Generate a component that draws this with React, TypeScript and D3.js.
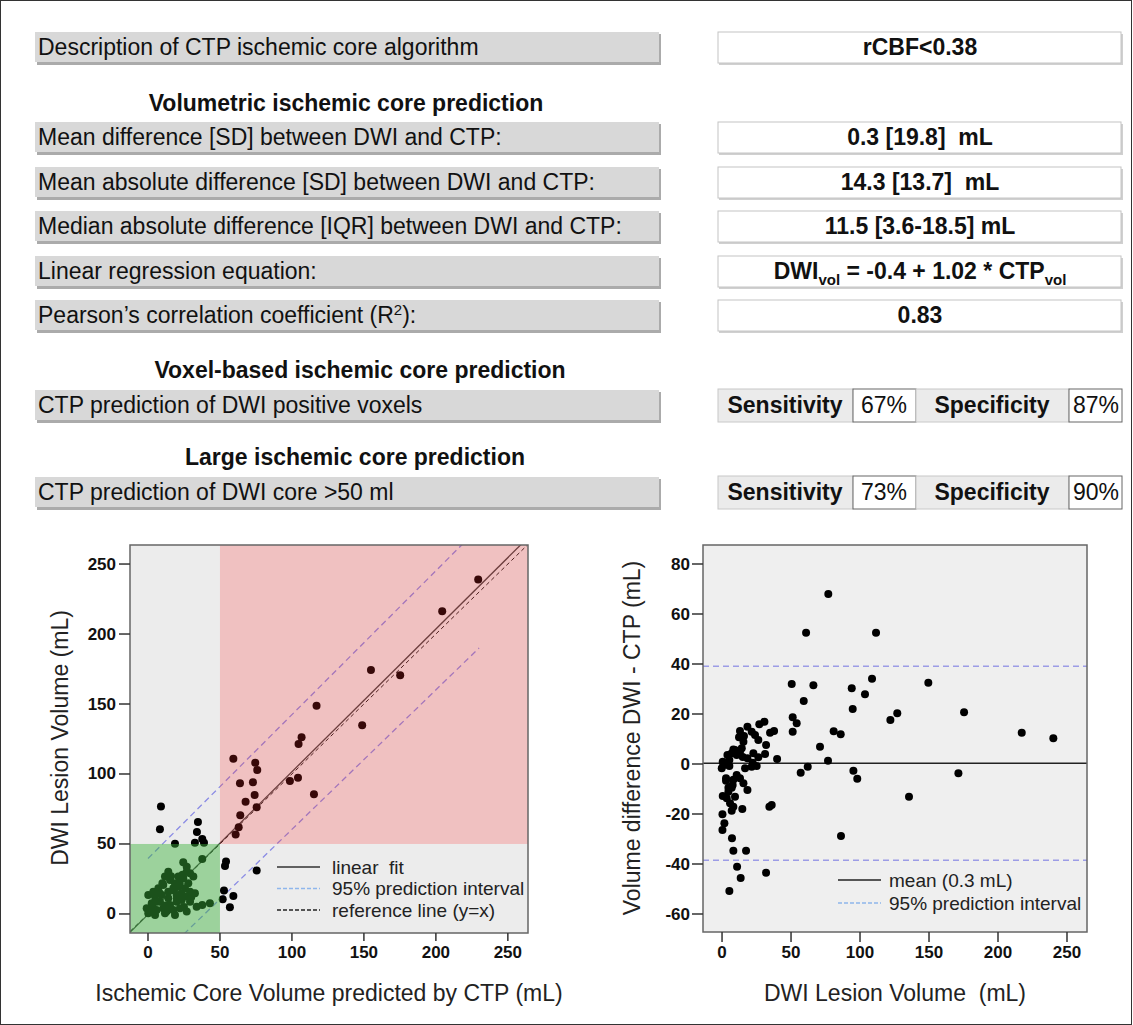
import React from 'react';
import * as d3 from 'd3';

const W = 1133;
const H = 1025;
const FONT = 'Liberation Sans, Arial, Helvetica, sans-serif';

// ---- table content ----
const tableLabels = [
  'Description of CTP ischemic core algorithm',
  'Mean difference [SD] between DWI and CTP:',
  'Mean absolute difference [SD] between DWI and CTP:',
  'Median absolute difference [IQR] between DWI and CTP:',
  'Linear regression equation:',
  'PEARSON',
];
const tableValues = ['rCBF<0.38', '0.3 [19.8]  mL', '14.3 [13.7]  mL', '11.5 [3.6-18.5] mL', 'EQUATION', '0.83'];
const sectionHeadings = [
  'Volumetric ischemic core prediction',
  'Voxel-based ischemic core prediction',
  'Large ischemic core prediction',
];
const accuracyLabels = ['CTP prediction of DWI positive voxels', 'CTP prediction of DWI core >50 ml'];
const sensitivityValues = ['67%', '73%'];
const specificityValues = ['87%', '90%'];

// ---- left scatter: [CTP predicted core, DWI lesion volume] ----
const ctpDwiPairs = [
  // large cores
  [229.4, 239], [204.4, 216.2], [154.9, 174.3], [175.2, 170.5], [117.1, 148.8], [148.8, 134.8],
  [106.7, 126.2], [104.6, 121.4], [59.3, 110.9], [74.5, 108.1], [75.9, 102.9], [63.9, 93.4],
  [72.9, 94.1], [98.6, 95], [104.2, 97.4], [115.3, 85.5], [67.8, 80.2], [74.1, 85], [75.5, 76.2],
  [64.1, 70.5], [63, 61.9], [60.9, 56.7],
  // underestimated
  [9, 76.7], [8.3, 60.5], [34.7, 65.7], [34, 58.6], [37.7, 53.6], [32.6, 50.9], [38.9, 50.9], [18.75, 50.2],
  // overestimated
  [54.2, 37.4], [53.5, 34.3], [75.5, 31], [52.8, 16.7], [59.3, 12.9], [51.9, 10.5], [56.9, 4.8],
  // small cores
  [24.5, 36.9], [26.9, 33.8], [37.7, 39.3], [14.1, 30.2], [11.8, 26.7], [15.3, 24.3], [21.1, 26.7],
  [24.5, 25.5], [26.9, 30.2], [29.2, 29.1], [31.5, 26.7], [18.75, 21.9], [10.6, 20.7], [7.2, 18.3],
  [3.7, 15.9], [0.2, 13.6], [4.9, 12.4], [9.5, 13.6], [14.1, 15.9], [17.6, 18.3], [21.1, 19.5],
  [25.7, 18.3], [23.4, 14.8], [29.2, 15.9], [32.6, 14.8], [26.9, 12.4], [19.9, 13.6], [14.1, 11.2],
  [8.3, 8.8], [2.6, 7.6], [-0.9, 4], [1.4, 1.7], [6, 2.9], [10.6, 4], [15.3, 6.4], [19.9, 8.8],
  [23.4, 10], [29.2, 8.8], [22.2, 4], [17.6, 2.9], [11.8, 0.5], [4.9, -0.7], [0.2, 0.5], [26.9, 1.7],
  [18.75, -0.7], [33.8, 5.2], [37.7, 6.4], [43, 7.6], [10, 22], [16, 27], [22, 22], [28, 22],
  [5, 9], [12, 6], [20, 11], [30, 12], [8, 15], [25, 5], [18, 17], [13, 2], [3, 5], [24, 28],
];
const fitIntercept = -0.4;
const fitSlope = 1.02;
const piUpperLeft = [[0, 39.6], [230, 276]];
const piLowerLeft = [[0, -39.2], [230, 190]];
const coreThreshold = 50;

// ---- right scatter: [DWI lesion volume, DWI - CTP] ----
const dwiDiffPairs = [
  [77, 68], [60.9, 52.5], [111.6, 52.5], [108.7, 34.1], [149.5, 32.5], [50.5, 32], [66.2, 31.5],
  [94, 30.3], [103.6, 27.9], [59.2, 25.2], [94.7, 22], [127, 20.3], [122, 17.6], [175.4, 20.7],
  [217.2, 12.5], [240.1, 10.3], [51.2, 18.7], [54.1, 16.3], [51.2, 12.9], [80.9, 13.1], [86, 11.9],
  [71, 6.9], [76.8, 1.3], [39.9, 2], [62.1, -1.1], [57, -3.5], [95.2, -2.7], [98, -5.9],
  [171.3, -3.7], [135.5, -13.1], [86.2, -28.8], [36, -16.4], [34.3, -17.1], [31.9, -43.5],
  [13, 13.2], [18.4, 14.9], [27, 15.9], [30.7, 16.9], [34.8, 12.5], [37.7, 13.2], [21.5, 12.9],
  [23.9, 11.6], [26.3, 9.6], [15.5, 8.9], [31.9, 7.6], [9.4, 5.6], [14.3, 6.3], [22.7, 4.3],
  [31.2, 4], [26.3, 2.7], [3.9, 3.6], [7, 4.3], [10.6, 3.6], [13, 4.9], [15, 2.8], [5.3, 1.6],
  [1, -0.4], [-0.2, -1.7], [0.5, 0.9], [5.3, -0.8], [16.7, -1.7], [21.5, -1.1], [22.2, 0.5],
  [25.1, -0.8], [2.9, -5.7], [2.9, -6.7], [8.2, -6.3], [13, -5.7], [15.5, -7.7], [18.4, -10.4],
  [7, -9.5], [4.6, -11.1], [0.5, -12.8], [3.4, -13.7], [9.4, -13.1], [5.8, -15.7], [8.2, -17.1],
  [7, -18.7], [14.7, -18], [0.3, -20.1], [1.7, -23.7], [0.3, -26.4], [7.2, -29.7], [8.2, -34.7],
  [17.4, -34.7], [10.9, -41.1], [13.5, -45.6], [5.3, -50.8], [12.3, 10.7], [15.9, 11.2],
  [8.2, 5.8], [18.4, 2.3], [10.6, -4.4], [7.7, -8.4], [4.6, -9.5],
];
const meanDiff = 0.3;
const piDiff = [39.1, -38.5];

const volumeTicks = [0, 50, 100, 150, 200, 250];
const diffTicks = [-60, -40, -20, 0, 20, 40, 60, 80];

function Table() {
  const rowTops = [32, 122, 167, 211, 256, 300];
  const accTops = [390, 477];
  const headY = [103, 370, 457];
  const headX = [346, 360, 355];
  const grayBox = (top: number, key: string) => (
    <g key={key}>
      <rect x={37} y={top + 2} width={624} height={31} fill="#ababab" />
      <rect x={35} y={top} width={624} height={30} fill="#d8d8d8" />
    </g>
  );
  return (
    <g fontFamily={FONT} fontSize={23} fill="#111">
      {tableLabels.map((lab, i) => (
        <g key={lab}>
          {grayBox(rowTops[i], 'g' + i)}
          <text x={38} y={rowTops[i] + 23}>
            {lab === 'PEARSON' ? (
              <>
                Pearson’s correlation coefficient (R<tspan fontSize={15} dy={-8}>2</tspan>
                <tspan dy={8}>):</tspan>
              </>
            ) : lab}
          </text>
          <rect x={719} y={rowTops[i] + 2} width={404} height={31} fill="#d0d0d0" />
          <rect x={718} y={rowTops[i]} width={403} height={31} fill="#fff" stroke="#c4c4c4" />
          <text x={920} y={rowTops[i] + 23} textAnchor="middle" fontWeight="bold" style={{ whiteSpace: 'pre' }}>
            {tableValues[i] === 'EQUATION' ? (
              <>
                DWI<tspan fontSize={15} dy={6}>vol</tspan>
                <tspan dy={-6}> = -0.4 + 1.02 * CTP</tspan>
                <tspan fontSize={15} dy={6}>vol</tspan>
              </>
            ) : tableValues[i]}
          </text>
        </g>
      ))}
      {sectionHeadings.map((h, i) => (
        <text key={h} x={headX[i]} y={headY[i] + 8} textAnchor="middle" fontWeight="bold">{h}</text>
      ))}
      {accuracyLabels.map((lab, i) => {
        const t = accTops[i];
        return (
          <g key={lab}>
            {grayBox(t, 'a' + i)}
            <text x={38} y={t + 23}>{lab}</text>
            <rect x={718} y={t - 1} width={135} height={33} fill="#ebebeb" stroke="#c8c8c8" />
            <rect x={853} y={t - 1} width={63} height={33} fill="#fff" stroke="#666" />
            <rect x={916} y={t - 1} width={153} height={33} fill="#ebebeb" stroke="#c8c8c8" />
            <rect x={1069} y={t - 1} width={53} height={33} fill="#fff" stroke="#666" />
            <text x={785} y={t + 23} textAnchor="middle" fontWeight="bold">Sensitivity</text>
            <text x={884} y={t + 23} textAnchor="middle">{sensitivityValues[i]}</text>
            <text x={992} y={t + 23} textAnchor="middle" fontWeight="bold">Specificity</text>
            <text x={1096} y={t + 23} textAnchor="middle">{specificityValues[i]}</text>
          </g>
        );
      })}
    </g>
  );
}

function LeftPlot() {
  const x = d3.scaleLinear().domain([-12.5, 264]).range([130, 528]);
  const y = d3.scaleLinear().domain([-13.6, 263.6]).range([933, 545]);
  const line = d3.line<number[]>().x((d) => x(d[0])).y((d) => y(d[1]));
  const [x0, x1] = x.domain();
  const [y0, y1] = y.domain();
  const fit = [x0, x1].map((v) => [v, fitIntercept + fitSlope * v]);
  const ref = [x0, x1].map((v) => [v, v]);
  const legend = [
    { label: 'linear  fit', color: '#333', dash: 'none' },
    { label: '95% prediction interval', color: '#8fb6ec', dash: '4,2' },
    { label: 'reference line (y=x)', color: '#222', dash: '4,2' },
  ];
  return (
    <g fontFamily={FONT}>
      <defs>
        <clipPath id="clipL">
          <rect x={x(x0)} y={y(y1)} width={x(x1) - x(x0)} height={y(y0) - y(y1)} />
        </clipPath>
      </defs>
      <rect x={x(x0)} y={y(y1)} width={x(x1) - x(x0)} height={y(y0) - y(y1)} fill="#ececec" />
      <g clipPath="url(#clipL)">
        <path d={line(fit) || ''} stroke="#444" strokeWidth={1.3} fill="none" />
        <path d={line(ref) || ''} stroke="#222" strokeWidth={1} strokeDasharray="4,3" fill="none" />
        <path d={line(piUpperLeft) || ''} stroke="#8a8be4" strokeWidth={1.3} strokeDasharray="6,4" fill="none" />
        <path d={line(piLowerLeft) || ''} stroke="#8a8be4" strokeWidth={1.3} strokeDasharray="6,4" fill="none" />
        {ctpDwiPairs.map((d, i) => (
          <circle key={i} cx={x(d[0])} cy={y(d[1])} r={4} fill="#000" />
        ))}
        <rect x={x(coreThreshold)} y={y(y1)} width={x(x1) - x(coreThreshold)} height={y(coreThreshold) - y(y1)}
          fill="rgb(255,40,40)" fillOpacity={0.22} />
        <rect x={x(x0)} y={y(coreThreshold)} width={x(coreThreshold) - x(x0)} height={y(y0) - y(coreThreshold)}
          fill="rgb(60,180,60)" fillOpacity={0.45} />
      </g>
      <rect x={x(x0)} y={y(y1)} width={x(x1) - x(x0)} height={y(y0) - y(y1)} fill="none" stroke="#666" strokeWidth={1.5} />
      {legend.map((l, i) => (
        <g key={l.label}>
          <line x1={277} x2={320} y1={867 + i * 21.5} y2={867 + i * 21.5} stroke={l.color} strokeWidth={1.5}
            strokeDasharray={l.dash} />
          <text x={332} y={867 + i * 21.5} dominantBaseline="central" fontSize={19} fill="#222"
            style={{ whiteSpace: 'pre' }}>{l.label}</text>
        </g>
      ))}
      {volumeTicks.map((t) => (
        <g key={'x' + t}>
          <line x1={x(t)} x2={x(t)} y1={933} y2={941} stroke="#333" strokeWidth={1.5} />
          <text x={x(t)} y={952} textAnchor="middle" dominantBaseline="central" fontSize={17} fontWeight="bold" fill="#111">{t}</text>
        </g>
      ))}
      {volumeTicks.map((t) => (
        <g key={'y' + t}>
          <line x1={119} x2={130} y1={y(t)} y2={y(t)} stroke="#333" strokeWidth={1.5} />
          <text x={116} y={y(t)} textAnchor="end" dominantBaseline="central" fontSize={17} fontWeight="bold" fill="#111">{t}</text>
        </g>
      ))}
      <text x={329} y={993} textAnchor="middle" dominantBaseline="central" fontSize={23} fill="#222">
        Ischemic Core Volume predicted by CTP (mL)
      </text>
      <text transform="translate(60,738) rotate(-90)" textAnchor="middle" dominantBaseline="central" fontSize={23} fill="#222">
        DWI Lesion Volume (mL)
      </text>
    </g>
  );
}

function RightPlot() {
  const x = d3.scaleLinear().domain([-13.8, 264.5]).range([703, 1087]);
  const y = d3.scaleLinear().domain([-67.2, 87.6]).range([932, 545]);
  const [x0, x1] = x.domain();
  const [y0, y1] = y.domain();
  const legend = [
    { label: 'mean (0.3 mL)', color: '#222', dash: 'none' },
    { label: '95% prediction interval', color: '#8fb6ec', dash: '4,2' },
  ];
  return (
    <g fontFamily={FONT}>
      <rect x={x(x0)} y={y(y1)} width={x(x1) - x(x0)} height={y(y0) - y(y1)} fill="#efefef" />
      <line x1={x(x0)} x2={x(x1)} y1={y(meanDiff)} y2={y(meanDiff)} stroke="#222" strokeWidth={1.3} />
      {piDiff.map((v) => (
        <line key={v} x1={x(x0)} x2={x(x1)} y1={y(v)} y2={y(v)} stroke="#9c9ce6" strokeWidth={1.3} strokeDasharray="6,4" />
      ))}
      {dwiDiffPairs.map((d, i) => (
        <circle key={i} cx={x(d[0])} cy={y(d[1])} r={4} fill="#000" />
      ))}
      <rect x={x(x0)} y={y(y1)} width={x(x1) - x(x0)} height={y(y0) - y(y1)} fill="none" stroke="#666" strokeWidth={1.5} />
      {legend.map((l, i) => (
        <g key={l.label}>
          <line x1={838} x2={881} y1={880 + i * 23} y2={880 + i * 23} stroke={l.color} strokeWidth={1.5}
            strokeDasharray={l.dash} />
          <text x={889} y={880 + i * 23} dominantBaseline="central" fontSize={19} fill="#222">{l.label}</text>
        </g>
      ))}
      {volumeTicks.map((t) => (
        <g key={'x' + t}>
          <line x1={x(t)} x2={x(t)} y1={932} y2={942} stroke="#333" strokeWidth={1.5} />
          <text x={x(t)} y={952} textAnchor="middle" dominantBaseline="central" fontSize={17} fontWeight="bold" fill="#111">{t}</text>
        </g>
      ))}
      {diffTicks.map((t) => (
        <g key={'y' + t}>
          <line x1={692} x2={703} y1={y(t)} y2={y(t)} stroke="#333" strokeWidth={1.5} />
          <text x={690} y={y(t)} textAnchor="end" dominantBaseline="central" fontSize={17} fontWeight="bold" fill="#111">{t}</text>
        </g>
      ))}
      <text x={895} y={993} textAnchor="middle" dominantBaseline="central" fontSize={23} fill="#222" style={{ whiteSpace: 'pre' }}>
        DWI Lesion Volume  (mL)
      </text>
      <text transform="translate(632,738) rotate(-90)" textAnchor="middle" dominantBaseline="central" fontSize={23} fill="#222">
        Volume difference DWI - CTP (mL)
      </text>
    </g>
  );
}

export default function App() {
  return (
    <svg width={W} height={H} style={{ position: 'absolute', left: 0, top: 0, background: '#fff' }}>
      <rect x={0.5} y={0.5} width={W - 2} height={H - 1} fill="#fff" stroke="#333" strokeWidth={1} />
      <Table />
      <LeftPlot />
      <RightPlot />
    </svg>
  );
}
